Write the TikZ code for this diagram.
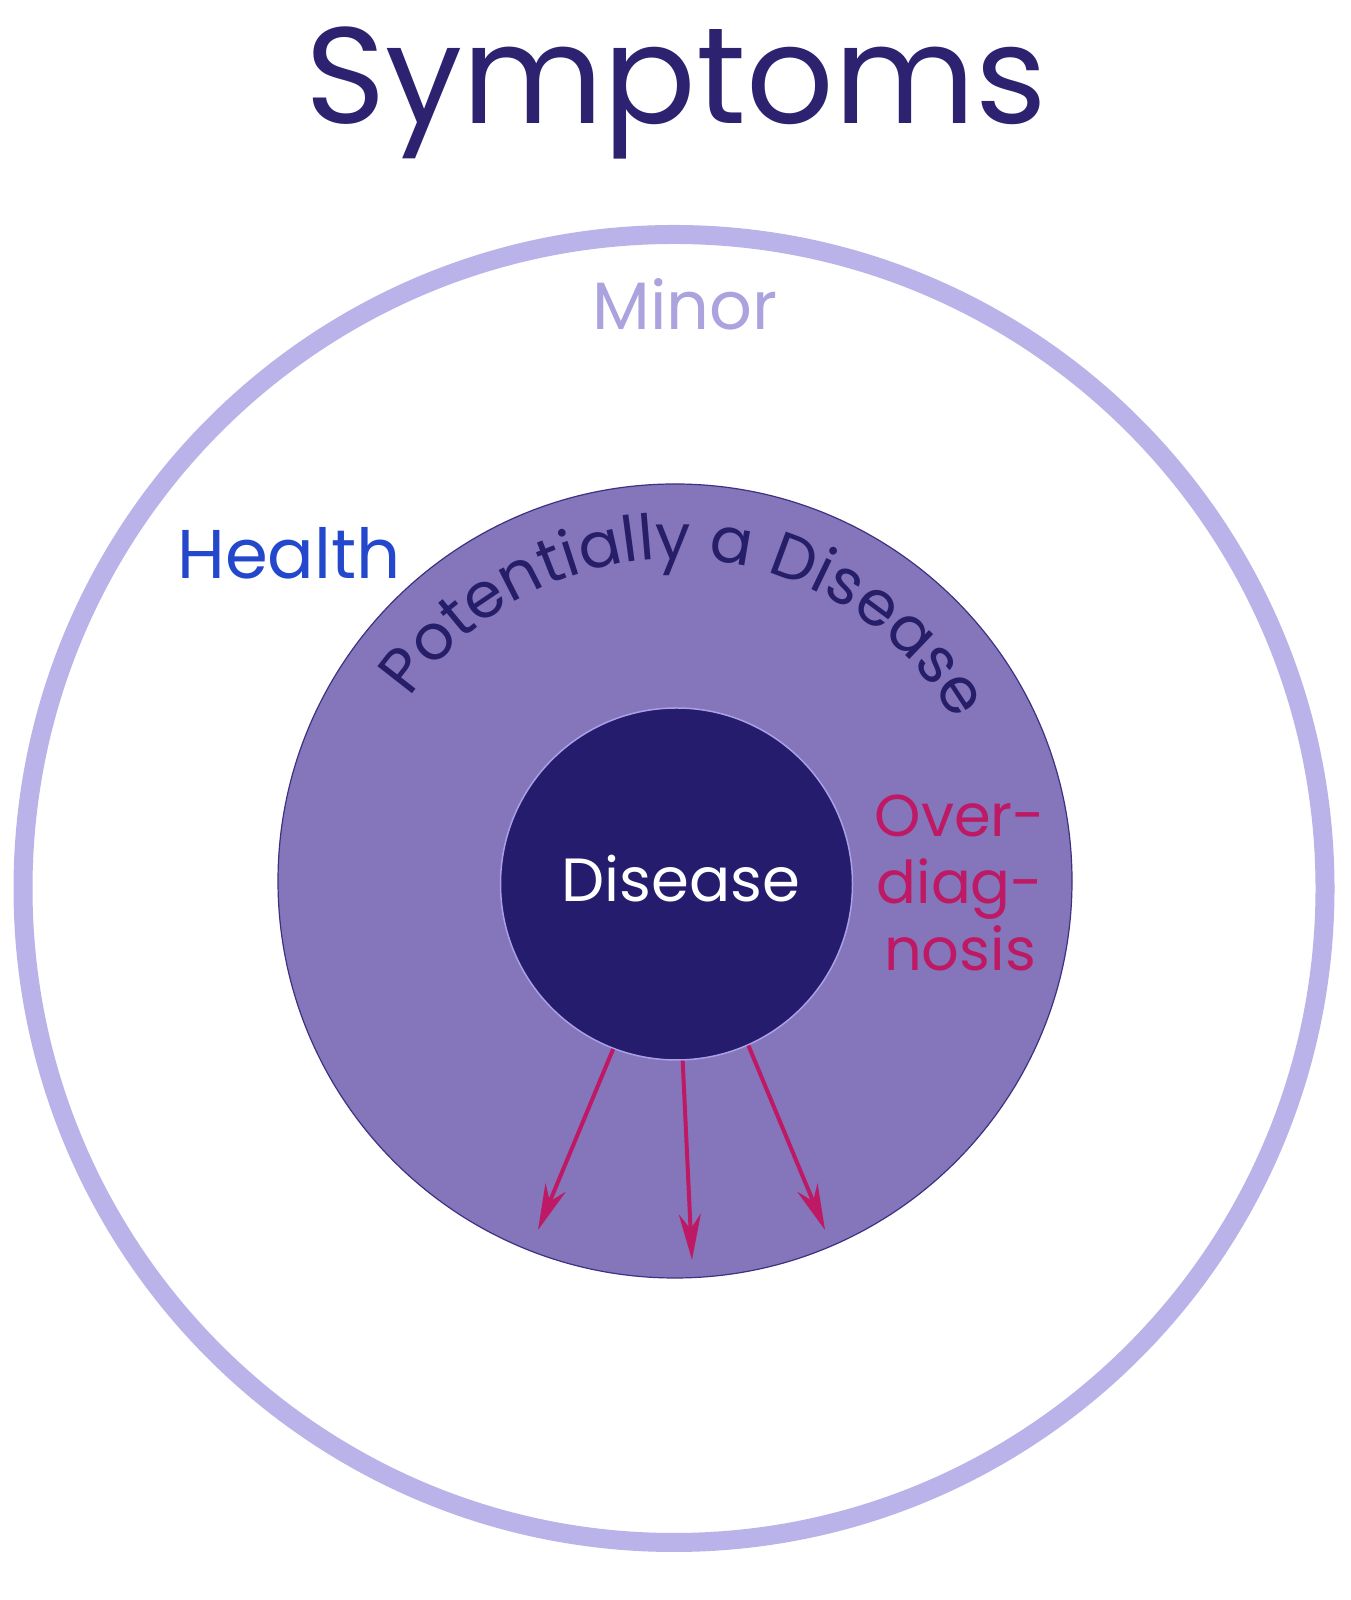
\documentclass[tikz,border=0pt]{standalone}
\usepackage{fontspec}
\setmainfont{Poppins}
\usetikzlibrary{arrows.meta,decorations.text}
\definecolor{titlec}{RGB}{44,34,112}
\definecolor{ringc}{RGB}{185,179,234}
\definecolor{minorc}{RGB}{170,163,222}
\definecolor{healthc}{RGB}{36,72,204}
\definecolor{midfill}{RGB}{133,117,187}
\definecolor{midline}{RGB}{60,50,130}
\definecolor{innerfill}{RGB}{37,28,110}
\definecolor{innerline}{RGB}{170,160,230}
\definecolor{potc}{RGB}{38,30,105}
\definecolor{overc}{RGB}{190,25,100}
\newcommand{\fsz}[1]{\fontsize{#1}{#1}\selectfont}
\tikzset{
  lbl/.style={inner sep=0pt, anchor=base},
  arr/.style={draw=overc, line width=4pt, -{Stealth[length=46pt, width=22pt, inset=15pt]}},
}
\begin{document}
\begin{tikzpicture}[x=1pt,y=1pt]
\useasboundingbox (0,0) rectangle (1350,1600);
\fill[white] (0,0) rectangle (1350,1600);
% outer ring
\coordinate (sym) at (674,711.5);
\draw[ringc, line width=19pt] (sym) ellipse [x radius=651, y radius=654];
% middle disc
\node[circle, fill=midfill, draw=midline, line width=1.2pt, minimum size=794pt, inner sep=0pt] (pot) at (675,719) {};
% inner disc
\node[circle, fill=innerfill, draw=innerline, line width=1.5pt, minimum size=352pt, inner sep=0pt] (dis) at (676.5,716) {};
\node[lbl, text=white, font=\fsz{61}] (distext) at (681,698) {Disease};
% texts
\node[lbl, text=titlec, font=\fsz{137}] (title) at (676,1476) {Symptoms};
\node[lbl, text=minorc, font=\fsz{67}] (minor) at (685,1270) {Minor};
\node[lbl, text=healthc, font=\fsz{69}] (health) at (289,1021) {Health};
\node[inner sep=0pt, anchor=north, align=center, text=overc, font={\fontsize{59}{67}\selectfont}] (over) at (960,805) {Over-\\diag-\\nosis};
% curved text
\path[decorate, decoration={text along path, text align=center,
  text format delimiters={|}{|},
  text={|\fsz{63}\color{potc}|Potentially a Disease}}]
  ([shift={(145:322)}]pot.center) arc[start angle=145, end angle=30, radius=322];
% arrows
\coordinate (e1) at (538,370);
\coordinate (e2) at (692,340);
\coordinate (e3) at (825,370);
\draw[arr] (dis.-111) -- (e1);
\draw[arr] (dis.-88) -- (e2);
\draw[arr] (dis.-66) -- (e3);
\end{tikzpicture}
\end{document}
